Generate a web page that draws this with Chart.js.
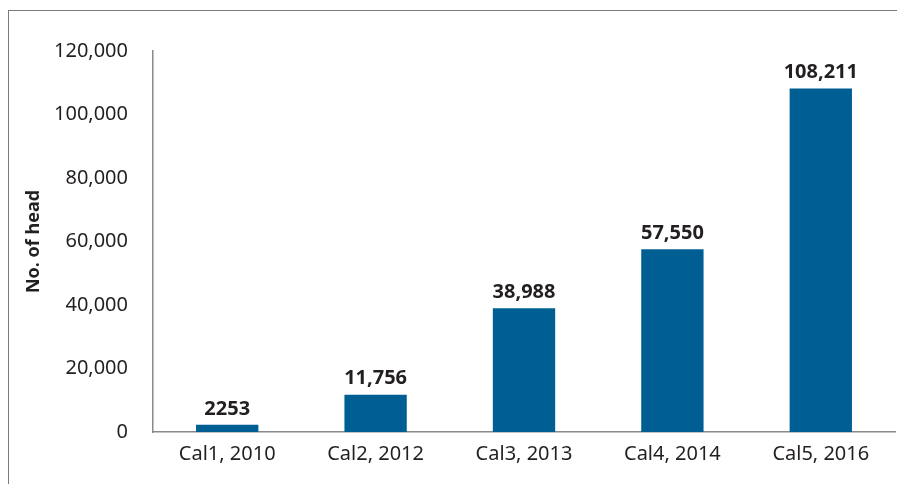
<!DOCTYPE html>
<html>
<head>
<meta charset="utf-8">
<script src="https://cdn.jsdelivr.net/npm/chart.js@4/dist/chart.umd.min.js"></script>
<style>
  html, body { margin: 0; padding: 0; background: #fff; }
  #wrap { position: relative; width: 897px; height: 484px; }
  #frame { position: absolute; left: 8px; top: 10px; right: 0; bottom: 0;
           border-left: 1px solid #7a7a7a; border-top: 1px solid #7a7a7a; }
  canvas { position: absolute; left: 0; top: 0; }
</style>
</head>
<body>
<div id="wrap">
  <div id="frame"></div>
  <canvas id="chart" width="897" height="484"></canvas>
</div>
<script>
const categories = ['Cal1, 2010', 'Cal2, 2012', 'Cal3, 2013', 'Cal4, 2014', 'Cal5, 2016'];
const heads = [2253, 11756, 38988, 57550, 108211];
const headLabels = ['2253', '11,756', '38,988', '57,550', '108,211'];
const yTicks = [0, 20000, 40000, 60000, 80000, 100000, 120000];

const textColor = '#231f20';
const fontFamily = '"Noto Sans", "Open Sans", sans-serif';

const barLabels = {
    id: 'barLabels',
    afterDatasetsDraw(chart) {
        const ctx = chart.ctx;
        const meta = chart.getDatasetMeta(0);
        ctx.save();
        ctx.font = 'bold 20px ' + fontFamily;
        ctx.fillStyle = textColor;
        ctx.textAlign = 'center';
        ctx.textBaseline = 'bottom';
        meta.data.forEach((bar, i) => {
            ctx.fillText(headLabels[i], bar.x, bar.y - 6);
        });
        ctx.restore();
    }
};

new Chart('chart', {
    type: 'bar',
    data: {
        labels: categories,
        datasets: [{
            data: heads,
            backgroundColor: '#005f92',
            categoryPercentage: 1,
            barPercentage: 0.42
        }]
    },
    options: {
        responsive: false,
        animation: false,
        layout: { padding: { left: 10, top: 51, right: 2, bottom: 0 } },
        plugins: { legend: { display: false }, tooltip: { enabled: false } },
        scales: {
            x: {
                grid: { display: false, drawTicks: false },
                border: { display: true, color: '#8a8a8a', width: 1.5 },
                ticks: { color: textColor, font: { family: fontFamily, size: 20 }, padding: 10, maxRotation: 0 },
                afterFit(scale) { scale.height = 52; }
            },
            y: {
                min: 0,
                max: 120000,
                afterBuildTicks(scale) { scale.ticks = yTicks.map(v => ({ value: v })); },
                grid: { display: false, drawTicks: false },
                border: { display: true, color: '#8a8a8a', width: 1.5 },
                ticks: { color: textColor, font: { family: fontFamily, size: 20 }, padding: 25 },
                title: {
                    display: true,
                    text: 'No. of head',
                    color: textColor,
                    font: { family: fontFamily, size: 18, weight: 'bold' },
                    padding: { top: 13, bottom: 0 }
                },
                afterFit(scale) { scale.width = 143; }
            }
        }
    },
    plugins: [barLabels]
});
</script>
</body>
</html>
